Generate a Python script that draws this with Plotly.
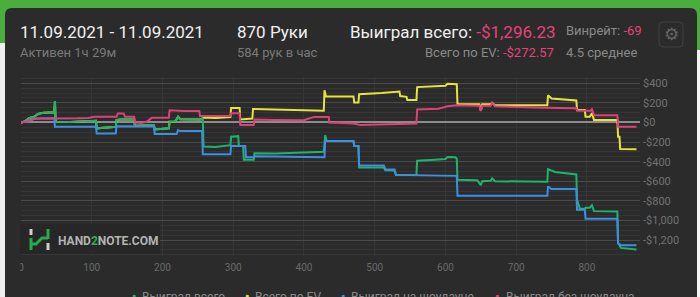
import plotly.graph_objects as go

# ---------------- data ----------------
x_tick_vals = [0, 100, 200, 300, 400, 500, 600, 700, 800]
x_tick_text = ["0", "100", "200", "300", "400", "500", "600", "700", "800"]
y_tick_vals = [400, 200, 0, -200, -400, -600, -800, -1000, -1200]
y_tick_text = ["$400", "$200", "$0", "-$200", "-$400", "-$600", "-$800", "-$1,000", "-$1,200"]

series_names = ["Выиграл всего", "Всего по EV", "Выиграл на шоудауне", "Выиграл без шоудауна"]
series_colors = ["#1fb36b", "#e6e43c", "#3d8fe3", "#e0407a"]

# Выиграл всего
green_hands = [0, 5, 12, 18, 24, 32, 47, 48, 49, 70, 90, 106, 107, 120, 134, 135, 140, 160, 161, 175, 188,
               189, 200, 209, 210, 218, 222, 225, 254, 257, 258, 275, 296, 297, 307, 308, 314, 315, 329, 330,
               360, 395, 415, 428, 430, 432, 470, 471, 477, 478, 513, 515, 528, 530, 559, 560, 585, 600, 603,
               614, 616, 617, 645, 650, 652, 664, 666, 670, 744, 745, 755, 785, 786, 790, 797, 798, 804, 807,
               810, 843, 844, 848, 870]
green_vals = [0, 10, 45, 55, 88, 100, 105, 218, 8, 5, 12, 18, -60, -52, -45, 24, 30, 30, -34, -30, -32,
              -71, -62, -60, 8, 10, 58, 32, 30, 45, -246, -250, -232, -146, -140, -240, -240, -381, -380, -314,
              -318, -312, -305, -300, -129, -190, -190, -240, -240, -460, -460, -488, -490, -535, -535, -390, -380, -372, -352,
              -355, -370, -585, -590, -640, -600, -595, -570, -600, -605, -477, -505, -530, -790, -880, -880, -870, -870, -845,
              -905, -908, -1228, -1280, -1296]

# Всего по EV
yellow_hands = [0, 5, 12, 18, 24, 32, 47, 48, 49, 70, 90, 106, 107, 120, 134, 135, 140, 160, 161, 175, 188,
                189, 200, 209, 210, 218, 222, 225, 254, 257, 258, 275, 296, 297, 309, 310, 320, 327, 328, 360,
                395, 410, 414, 428, 429, 431, 470, 471, 477, 478, 510, 530, 535, 536, 545, 546, 559, 560, 590,
                600, 603, 614, 616, 617, 648, 650, 652, 664, 666, 670, 744, 745, 750, 785, 786, 797, 798, 804,
                807, 810, 843, 844, 846, 847, 870]
yellow_vals = [0, 10, 45, 55, 88, 100, 105, 218, 8, 5, 12, 18, -60, -52, -45, 24, 30, 30, -34, -30, -32,
               -71, -62, -60, 8, 10, 58, 32, 30, 45, 50, 45, 55, 148, 148, 30, 38, 40, 138, 130,
               128, 125, 118, 120, 328, 267, 265, 203, 203, 288, 300, 310, 315, 270, 262, 230, 230, 361, 370,
               375, 396, 396, 390, 186, 186, 118, 186, 186, 200, 176, 176, 277, 245, 224, 127, 127, 59, 59,
               95, 26, 26, -145, -145, -270, -273]

# Выиграл на шоудауне
blue_hands = [0, 10, 18, 25, 47, 48, 106, 107, 134, 135, 188, 189, 220, 222, 225, 256, 257, 296, 297, 317,
              318, 329, 330, 380, 429, 430, 470, 471, 477, 478, 513, 515, 528, 530, 605, 616, 617, 744, 745,
              750, 785, 786, 797, 798, 843, 844, 848, 870]
blue_vals = [0, 15, 35, 40, 42, -43, -45, -112, -112, -38, -40, -118, -118, -78, -88, -88, -325, -325, -241, -241,
             -355, -355, -345, -350, -355, -190, -190, -240, -240, -440, -440, -480, -480, -535, -540, -545, -748, -748, -653,
             -680, -680, -892, -892, -982, -982, -1235, -1253, -1253]

# Выиграл без шоудауна
red_hands = [0, 10, 15, 20, 47, 60, 80, 95, 104, 135, 137, 145, 147, 160, 161, 170, 178, 185, 209, 210, 230,
             252, 253, 296, 297, 309, 310, 329, 330, 360, 400, 414, 435, 436, 470, 480, 520, 559, 560, 590, 603,
             614, 616, 648, 650, 652, 664, 666, 670, 740, 785, 786, 805, 807, 810, 843, 844, 870]
red_vals = [0, 10, 24, 41, 41, 40, 42, 45, 58, 58, 92, 92, 58, 58, 0, -5, 10, 47, 47, 125, 118,
            118, 67, 67, 95, 95, -27, -27, 30, 25, 23, 57, 57, 0, -10, -27, -20, -10, 132, 140, 165,
            175, 176, 170, 118, 170, 170, 200, 165, 150, 145, 120, 120, 135, 74, 74, -43, -43]

# ---------------- layout helpers (pixel -> paper) ----------------
W, H = 700, 297
L, R, T, B = 21, 640, 77, 256


def px(x):
    return (x - L) / (R - L)


def py(y):
    return (B - y) / (B - T)


fig = go.Figure()

draw = [
    (series_names[1], yellow_hands, yellow_vals, series_colors[1]),
    (series_names[0], green_hands, green_vals, series_colors[0]),
    (series_names[2], blue_hands, blue_vals, series_colors[2]),
    (series_names[3], red_hands, red_vals, series_colors[3]),
]
for name, hs, vs, col in draw:
    fig.add_trace(go.Scatter(x=hs, y=vs, mode="lines", name=name, showlegend=False,
                             line=dict(color=col, width=2), hoverinfo="skip"))

DARK = "#2b2b2b"
GREEN_BG = "#4aae3c"

shapes = []


def rect(x0, y0, x1, y1, fill, layer="above"):
    shapes.append(dict(type="rect", xref="paper", yref="paper", x0=px(x0), x1=px(x1), y0=py(y1), y1=py(y0),
                       fillcolor=fill, line=dict(width=0), layer=layer))


def path_px(points_cmd, fill=None, line_color=None, line_width=0, layer="above"):
    shapes.append(dict(type="path", xref="paper", yref="paper", path=points_cmd,
                       fillcolor=fill if fill else "rgba(0,0,0,0)",
                       line=dict(color=line_color if line_color else "rgba(0,0,0,0)", width=line_width),
                       layer=layer))


def P(x, y):
    return f"{px(x)},{py(y)}"


def line(x0, y0, x1, y1, color, width):
    shapes.append(dict(type="line", xref="paper", yref="paper", x0=px(x0), y0=py(y0), x1=px(x1), y1=py(y1),
                       line=dict(color=color, width=width), layer="above"))


# surroundings of the dark panel
rect(0, 0, 700, 8, GREEN_BG)
rect(0, 8, 5, 43, GREEN_BG)
rect(0, 43, 5, 297, "#eeeeee")
rect(697, 8, 700, 50, GREEN_BG)
rect(697, 50, 700, 297, "#f4f4f4")
path_px(f"M {P(5,8)} L {P(12,8)} Q {P(5,8)} {P(5,15)} Z", fill=GREEN_BG)
path_px(f"M {P(697,8)} L {P(690,8)} Q {P(697,8)} {P(697,15)} Z", fill=GREEN_BG)

# clip half of the "0" tick label
rect(5, 258, 20.3, 282, DARK)

# watermark box + logo
rect(20, 224, 160, 254, "#272727")
line(31, 229, 31, 235, "#cfcfcf", 3)
line(31, 238, 31, 250, "#2aa84a", 3)
path_px(f"M {P(31,244)} L {P(36,244)} L {P(42,238)} L {P(48,238)}", line_color="#2aa84a", line_width=3)
line(48, 229, 48, 239, "#2aa84a", 3)
line(48, 243, 48, 250, "#cfcfcf", 3)

# gear box
gx0, gy0, gx1, gy1, r = 659, 22, 683, 47, 4
path_px(f"M {P(gx0+r,gy0)} L {P(gx1-r,gy0)} Q {P(gx1,gy0)} {P(gx1,gy0+r)} L {P(gx1,gy1-r)} "
        f"Q {P(gx1,gy1)} {P(gx1-r,gy1)} L {P(gx0+r,gy1)} Q {P(gx0,gy1)} {P(gx0,gy1-r)} "
        f"L {P(gx0,gy0+r)} Q {P(gx0,gy0)} {P(gx0+r,gy0)} Z",
        line_color="#404040", line_width=1)

PINK = "#e4437a"
FONT = "Roboto"
ann = []


def text(x, y, s, size, color, anchor="left", weight=None):
    f = dict(family=FONT, size=size, color=color)
    if weight:
        f["weight"] = weight
    ann.append(dict(xref="paper", yref="paper", x=px(x), y=py(y), text=s, showarrow=False,
                    xanchor=anchor, yanchor="middle", font=f, borderpad=0))


text(19, 32, "11.09.2021 - 11.09.2021", 17, "#f0f0f0")
text(19, 53, "Активен 1ч 29м", 13, "#7a7a7a")
text(236, 32, "870 Руки", 17, "#f0f0f0")
text(236, 53, "584 рук в час", 13, "#7a7a7a")
text(349, 32, f"Выиграл всего: <span style='color:{PINK}'>-$1,296.23</span>", 17, "#f0f0f0")
text(565, 31, f"Винрейт: <span style='color:{PINK}'>-69</span>", 13, "#8a8a8a")
text(424, 53, f"Всего по EV: <span style='color:{PINK}'>-$272.57</span>", 13, "#8a8a8a")
text(565, 52, "4.5 среднее", 13, "#8a8a8a")
text(671, 34.5, "⚙", 17, "#666666", anchor="center")

text(57, 240.5, f"<b>HAND<span style='color:#2bb24c'>2</span>NOTE.COM</b>", 12, "#b4b4b4")

# legend (bottom, cut off by the window)
legend_dots = [133.5, 247, 343, 497]
legend_texts = [141, 254, 350, 505]
legend_order = [0, 1, 2, 3]
for i in legend_order:
    text(legend_dots[i], 296, "●", 7, series_colors[i], anchor="center")
    text(legend_texts[i], 296.5, series_names[i], 12, "#8a8a8a")

fig.update_layout(
    width=W, height=H,
    margin=dict(l=L, r=W - R, t=T, b=H - B, pad=0),
    paper_bgcolor=DARK, plot_bgcolor=DARK,
    showlegend=False,
    shapes=shapes, annotations=ann,
    xaxis=dict(range=[0, 875], tickmode="array", tickvals=x_tick_vals, ticktext=x_tick_text,
               showgrid=True, gridcolor="#363636", gridwidth=1, zeroline=False, showline=False,
               ticks="", ticklabelstandoff=4, tickfont=dict(family=FONT, size=10, color="#6a6a6a"),
               fixedrange=True),
    yaxis=dict(range=[-1363, 464], side="right", tickmode="array", tickvals=y_tick_vals, ticktext=y_tick_text,
               showgrid=True, gridcolor="#4a4a4a", gridwidth=1,
               minor=dict(tickmode="linear", tick0=0, dtick=50, showgrid=True, gridcolor="#353535", gridwidth=1),
               zeroline=True, zerolinecolor="#8c8c8c", zerolinewidth=1.5, showline=False,
               ticks="", ticklabelstandoff=2, tickfont=dict(family=FONT, size=11, color="#727272"),
               fixedrange=True),
)

fig.write_html("out.html", config={"displayModeBar": False})
